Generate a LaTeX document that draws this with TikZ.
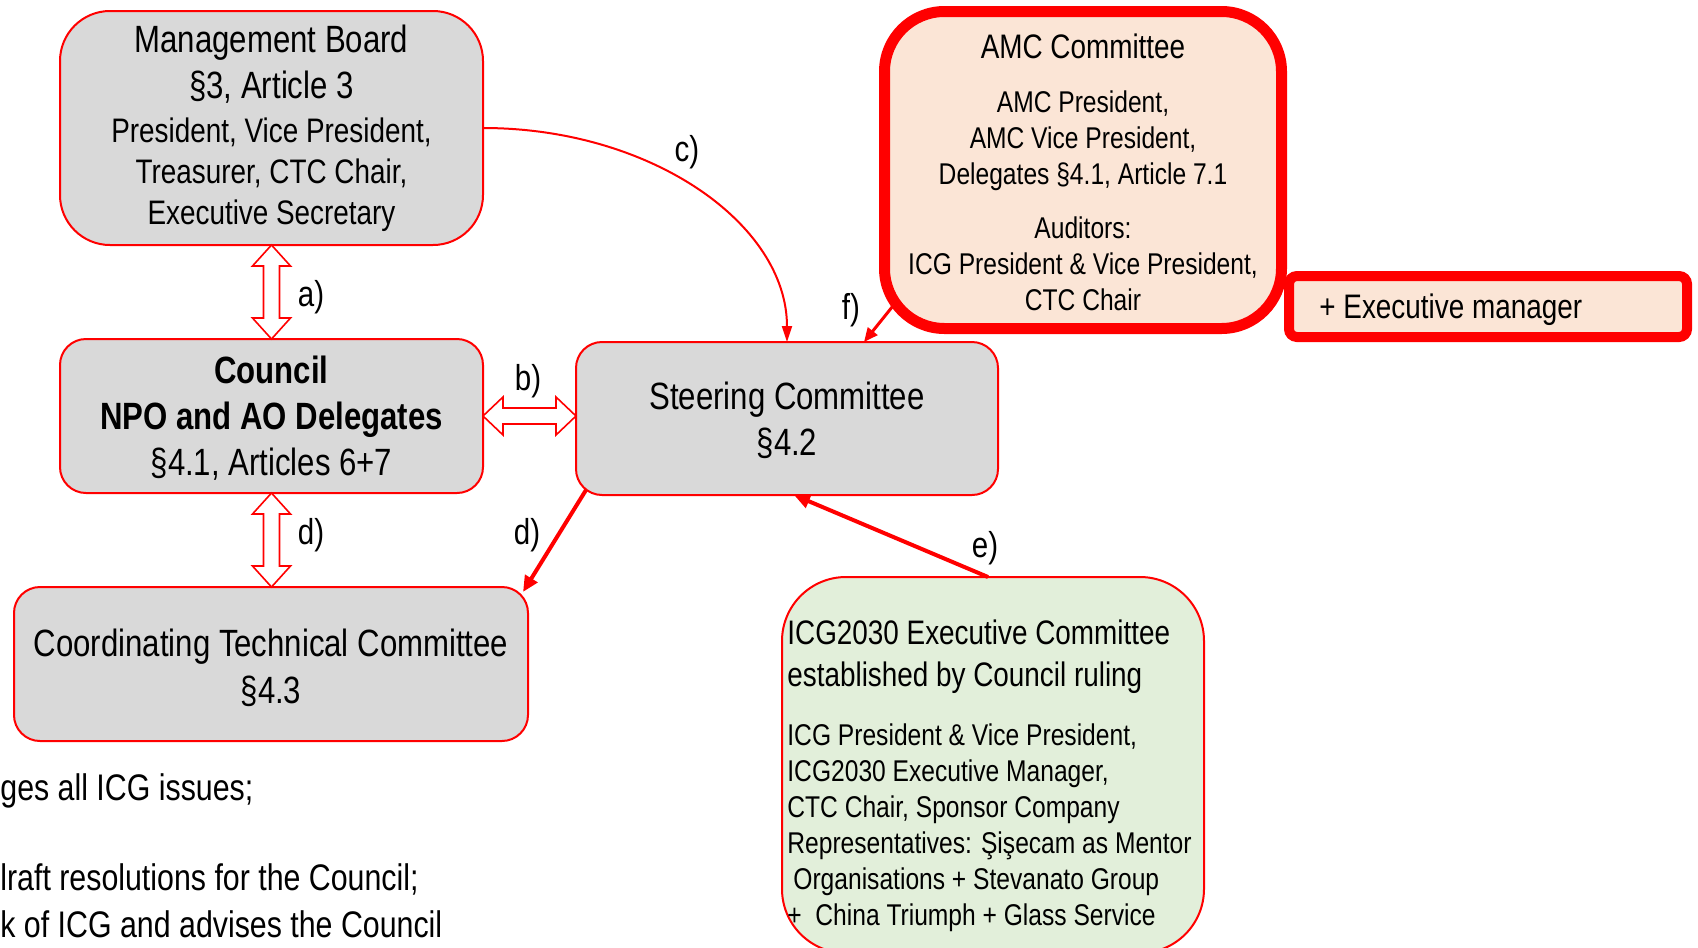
\documentclass[tikz,border=0pt]{standalone}
\usepackage{fontspec}
\setmainfont{Liberation Sans}[FakeStretch=0.82]
\usetikzlibrary{calc,arrows.meta}
\definecolor{boxred}{HTML}{FF0000}
\definecolor{boxgray}{HTML}{D9D9D9}
\definecolor{peach}{HTML}{FBE5D6}
\definecolor{palegreen}{HTML}{E2EFDA}
\newcommand{\fs}[2]{\fontsize{#1}{#2}\selectfont}
\newcommand{\hollowV}[2]{%
  \path[draw=boxred, line width=0.8pt, fill=white] let \p1=(#1), \p2=(#2) in
  (\x1,\y1) -- ({\x1+9.5pt},{\y1-10.5pt}) -- ({\x1+4pt},{\y1-10.5pt}) -- ({\x1+4pt},{\y2+10.5pt})
  -- ({\x1+9.5pt},{\y2+10.5pt}) -- (\x1,\y2) -- ({\x1-9.5pt},{\y2+10.5pt}) -- ({\x1-4pt},{\y2+10.5pt})
  -- ({\x1-4pt},{\y1-10.5pt}) -- ({\x1-9.5pt},{\y1-10.5pt}) -- cycle;}
\newcommand{\hollowH}[2]{%
  \path[draw=boxred, line width=0.8pt, fill=white] let \p1=(#1), \p2=(#2) in
  (\x1,\y1) -- ({\x1+10pt},{\y1+9.5pt}) -- ({\x1+10pt},{\y1+4pt}) -- ({\x2-10pt},{\y1+4pt})
  -- ({\x2-10pt},{\y1+9.5pt}) -- (\x2,\y1) -- ({\x2-10pt},{\y1-9.5pt}) -- ({\x2-10pt},{\y1-4pt})
  -- ({\x1+10pt},{\y1-4pt}) -- ({\x1+10pt},{\y1-9.5pt}) -- cycle;}
\tikzset{
  greybox/.style={draw=boxred, line width=1pt, fill=boxgray, rounded corners=13pt,
    align=center, inner sep=0pt, outer sep=0pt},
  lbl/.style={inner sep=0pt, font=\fs{18}{20}},
  note/.style={anchor=west, inner sep=0pt, font=\fs{18.5}{22.5}},
  thinarrow/.style={draw=boxred, line width=1pt, -{Triangle[length=8pt,width=5pt]}},
  thickarrow/.style={draw=boxred, line width=2pt, -{Triangle[length=8pt,width=7pt]}},
}
\begin{document}
\begin{tikzpicture}[x=0.5pt,y=-0.5pt]
\useasboundingbox (0,0) rectangle (1698,948);
\clip (0,0) rectangle (1698,948);

\node[greybox, rounded corners=25pt, minimum width=211.5pt, minimum height=117pt, font=\fs{17}{20.5}] (mb) at (271.5,128)
  {\fs{19}{22.5}Management Board\\[2.5pt] \fs{19}{22.5}§3, Article 3\\[1.5pt] President, Vice President,\\ Treasurer, CTC Chair,\\ Executive Secretary};
\node[greybox, minimum width=211.5pt, minimum height=77pt, font=\fs{19}{23}] (council) at (271.5,416)
  {\rule{0pt}{16pt}\bfseries Council\\ \bfseries NPO and AO Delegates\\ §4.1, Articles 6+7};
\node[greybox, minimum width=211pt, minimum height=76.5pt, font=\fs{19}{23}] (steering) at (787,418.5)
  {\rule{0pt}{16pt}Steering Committee\\ §4.2};
\node[greybox, minimum width=257pt, minimum height=77pt, font=\fs{19}{23.5}] (ctc) at (271,664)
  {\rule{0pt}{18pt}Coordinating Technical Committee\\ §4.3};

\node[draw=boxred, line width=5.5pt, fill=peach, rounded corners=30pt, minimum width=198.5pt,
  minimum height=158.5pt, align=center, inner sep=0pt, outer sep=0pt, font=\fs{15}{18}] (amc) at (1083,170)
  {\rule{0pt}{15pt}\fs{17}{20}AMC Committee\\[9pt] AMC President,\\ AMC Vice President,\\
   Delegates §4.1, Article 7.1\\[9pt] Auditors:\\
   ICG President \& Vice President,\\ CTC Chair};
\node[draw=boxred, line width=5pt, fill=peach, rounded corners=4pt, minimum width=199pt,
  minimum height=30.5pt, inner sep=0pt, outer sep=0pt] (exm) at (1488,306.5) {};
\node[anchor=west, inner sep=0pt, font=\fs{17}{20}] (exmtext) at ($(exm.west)+(30,3.5)$) {+ Executive manager};

\node[draw=boxred, line width=1pt, fill=palegreen, rounded corners=32pt, minimum width=211pt,
  minimum height=188pt, inner sep=0pt, outer sep=0pt] (icg) at (993,765) {};
\node[anchor=north west, align=left, inner sep=0pt, font=\fs{15}{18}] (icgtext) at (787,619)
  {\fs{17}{21}ICG2030 Executive Committee\\[3pt] \fs{17}{21}established by Council ruling\\[11.5pt]
   ICG President \& Vice President,\\ ICG2030 Executive Manager,\\
   CTC Chair, Sponsor Company\\ Representatives: Şişecam as Mentor\\
   \hspace{3pt}Organisations + Stevanato Group\\ +\ \ China Triumph + Glass Service};

% connectors
\hollowV{mb.south}{council.north}
\hollowV{council.south}{ctc.north}
\hollowH{council.east}{steering.west |- council.east}
\draw[thinarrow] (mb.east) .. controls +(168,0) and +(0,-118) .. (steering.north);
\draw[thickarrow] ($(steering.south west)+(10,-5)$) -- ($(ctc.north east)+(-5,5)$);
\draw[thickarrow] ($(icg.north)+(-5,0)$) -- ($(steering.south)+(7,0)$);
\draw[draw=boxred, line width=1.5pt, -{Triangle[length=7pt,width=6pt]}] ($(amc.south west)+(8,-22)$) -- ($(steering.north)+(77,0)$);

% labels
\node[lbl] (la) at (311,297) {a)};
\node[lbl] (lb) at (528,381) {b)};
\node[lbl] (lc) at (687,152) {c)};
\node[lbl] (ld) at (311,535) {d)};
\node[lbl] (ld2) at (527,535) {d)};
\node[lbl] (le) at (985,548) {e)};
\node[lbl] (lf) at (851,310) {f)};

% notes
\node[note] (n1) at (0,791) {ges all ICG issues;};
\node[note] (n2) at (0,879) {lraft resolutions for the Council;};
\node[note] (n3) at (0,924) {k of ICG and advises the Council};
\end{tikzpicture}
\end{document}
